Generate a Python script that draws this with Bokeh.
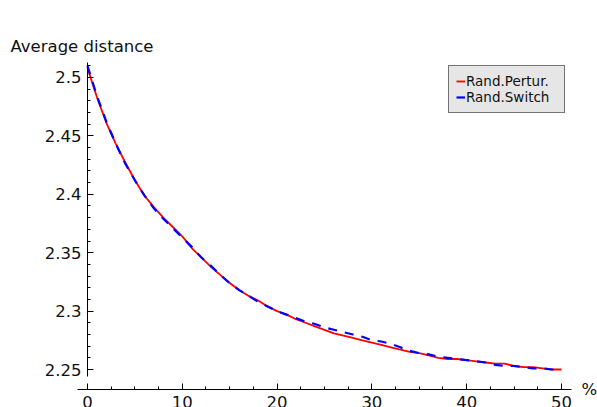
from bokeh.plotting import figure
from bokeh.models import (LinearAxis, SingleIntervalTicker, CustomJSTickFormatter,
                          Label, Legend, LegendItem, Range1d)
from bokeh.embed import file_html
from bokeh.resources import INLINE

# Percentage of perturbation / switching
percent = list(range(0, 51))

# Average distance for random perturbation
rand_pertur = [
    2.508, 2.483, 2.461, 2.443, 2.427, 2.412, 2.399, 2.389, 2.380, 2.372,
    2.364, 2.354, 2.346, 2.338, 2.331, 2.324, 2.318, 2.313, 2.309, 2.304,
    2.300, 2.297, 2.293, 2.290, 2.287, 2.284, 2.281, 2.279, 2.277, 2.275,
    2.273, 2.271, 2.269, 2.267, 2.265, 2.264, 2.262, 2.260, 2.259, 2.259,
    2.258, 2.257, 2.256, 2.255, 2.255, 2.253, 2.252, 2.252, 2.251, 2.250,
    2.250,
]

# Average distance for random switching
rand_switch = [
    2.510, 2.484, 2.462, 2.443, 2.426, 2.412, 2.399, 2.388, 2.379, 2.371,
    2.363, 2.355, 2.346, 2.339, 2.331, 2.324, 2.318, 2.313, 2.308, 2.304,
    2.300, 2.297, 2.294, 2.291, 2.289, 2.286, 2.284, 2.282, 2.280, 2.278,
    2.275, 2.274, 2.272, 2.269, 2.266, 2.264, 2.263, 2.261, 2.260, 2.259,
    2.258, 2.257, 2.256, 2.254, 2.253, 2.253, 2.252, 2.251, 2.251, 2.250,
    2.250,
]

series_names = ["Rand.Pertur.", "Rand.Switch"]
y_label = "Average distance"
x_label = "%"

FONT = "DejaVu Sans"

p = figure(width=597, height=407, output_backend="svg", toolbar_location=None,
           x_axis_type=None, y_axis_type=None,
           x_range=Range1d(-9.177, 53.80), y_range=Range1d(2.21747, 2.5659),
           min_border_left=0, min_border_right=0, min_border_top=0, min_border_bottom=0)
p.outline_line_color = None
p.xgrid.visible = False
p.ygrid.visible = False
p.background_fill_color = "white"
p.border_fill_color = "white"

fmt = CustomJSTickFormatter(code="return String(Number(tick.toFixed(2)));")

# x axis placed just below the data, crossing the y axis offset
xaxis = LinearAxis(ticker=SingleIntervalTicker(interval=10, num_minor_ticks=4),
                   fixed_location=2.2329, bounds=(-1.05, 51.05), formatter=fmt)
yaxis = LinearAxis(ticker=SingleIntervalTicker(interval=0.05, num_minor_ticks=5),
                   fixed_location=0, bounds=(2.244, 2.5128), formatter=fmt)
for ax in (xaxis, yaxis):
    ax.axis_line_color = "black"
    ax.axis_line_width = 1
    ax.major_tick_line_color = "black"
    ax.minor_tick_line_color = "black"
    ax.major_tick_in = 6
    ax.major_tick_out = 0
    ax.minor_tick_in = 3
    ax.minor_tick_out = 0
    ax.major_label_text_font = FONT
    ax.major_label_text_font_size = "16.5px"
    ax.major_label_text_color = "#111111"
yaxis.major_label_standoff = 6
xaxis.major_label_standoff = 7
p.add_layout(xaxis, "below")
p.add_layout(yaxis, "left")

r1 = p.line(percent, rand_pertur, line_color="#ff0000", line_width=1.8)
r2 = p.line(percent, rand_switch, line_color="#0000ff", line_width=2.2, line_dash="9 8")

legend = Legend(items=[LegendItem(label=series_names[0], renderers=[r1]),
                       LegendItem(label=series_names[1], renderers=[r2])],
                location=(448, 294))
legend.label_text_font = FONT
legend.label_text_font_size = "13.5px"
legend.label_text_color = "#111111"
legend.glyph_width = 9
legend.glyph_height = 14
legend.label_standoff = 1
legend.label_height = 15
legend.label_width = 91
legend.spacing = 0
legend.padding = 7
legend.margin = 0
legend.border_line_color = "black"
legend.border_line_width = 1
legend.background_fill_color = "#e6e6e6"
legend.background_fill_alpha = 1.0
p.add_layout(legend)

p.add_layout(Label(x=10, y=361, x_units="screen", y_units="screen", text=y_label,
                   text_font=FONT, text_font_size="16.5px", text_color="#111111",
                   text_baseline="alphabetic"))
p.add_layout(Label(x=581, y=18, x_units="screen", y_units="screen", text=x_label,
                   text_font=FONT, text_font_size="16.5px", text_color="#111111",
                   text_baseline="alphabetic"))

open("out.html", "w").write(file_html(p, INLINE))
